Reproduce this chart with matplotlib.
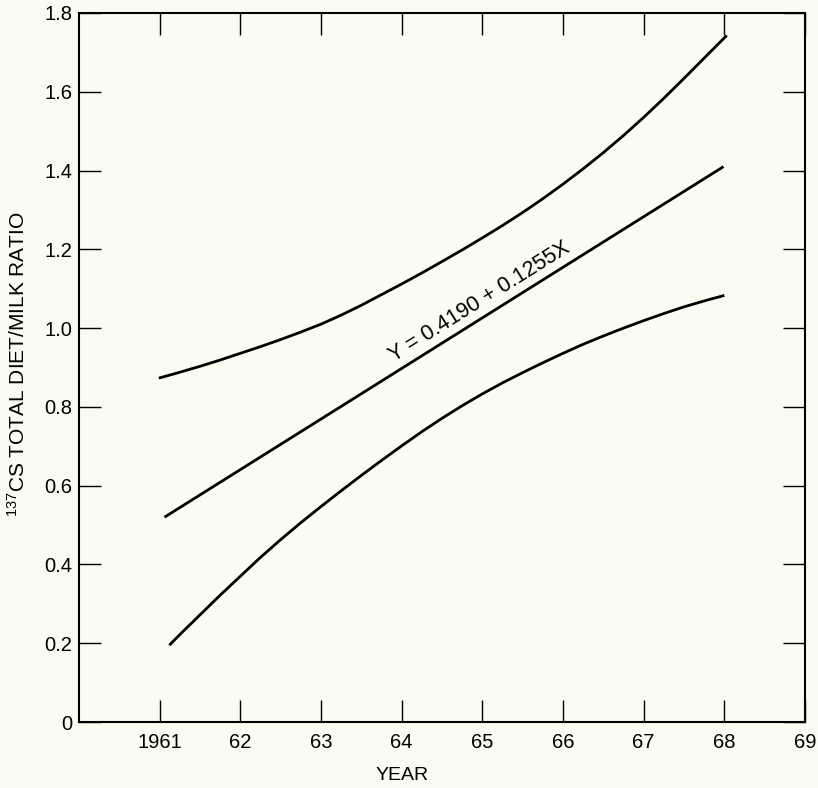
import matplotlib
matplotlib.use("Agg")
import matplotlib.pyplot as plt
import numpy as np

plt.rcParams['font.family'] = ['Liberation Sans', 'DejaVu Sans']
plt.rcParams['mathtext.default'] = 'regular'

# ---- data ----
upper_x = [1960.99, 1961.25, 1961.5, 1961.75, 1962.0, 1962.25, 1962.5, 1962.75,
           1963.0, 1963.25, 1963.5, 1963.75, 1964.0, 1964.25, 1964.5, 1964.75,
           1965.0, 1965.25, 1965.5, 1965.75, 1966.0, 1966.25, 1966.5, 1966.75,
           1967.0, 1967.25, 1967.5, 1967.75, 1968.03]
upper_y = [0.873, 0.888, 0.903, 0.919, 0.936, 0.953, 0.971, 0.990,
           1.010, 1.033, 1.058, 1.085, 1.112, 1.140, 1.169, 1.1985,
           1.229, 1.2605, 1.2935, 1.3285, 1.3655, 1.4045, 1.4455, 1.489,
           1.535, 1.5835, 1.634, 1.6855, 1.743]

mid_x = [1961.06, 1967.99]
mid_y = [0.520, 1.410]

lower_x = [1961.12, 1961.25, 1961.5, 1961.75, 1962.0, 1962.25, 1962.5, 1962.75,
           1963.0, 1963.25, 1963.5, 1963.75, 1964.0, 1964.25, 1964.5, 1964.75,
           1965.0, 1965.25, 1965.5, 1965.75, 1966.0, 1966.25, 1966.5, 1966.75,
           1967.0, 1967.25, 1967.5, 1967.75, 1968.0]
lower_y = [0.195, 0.222, 0.272, 0.322, 0.370, 0.418, 0.463, 0.506,
           0.547, 0.587, 0.626, 0.664, 0.701, 0.737, 0.771, 0.803,
           0.833, 0.861, 0.887, 0.912, 0.936, 0.959, 0.980, 1.000,
           1.019, 1.037, 1.054, 1.069, 1.083]

x_ticks = [1961, 1962, 1963, 1964, 1965, 1966, 1967, 1968, 1969]
x_ticklabels = ['1961', '62', '63', '64', '65', '66', '67', '68', '69']
y_ticks = [0, 0.2, 0.4, 0.6, 0.8, 1.0, 1.2, 1.4, 1.6, 1.8]
y_ticklabels = ['0', '0.2', '0.4', '0.6', '0.8', '1.0', '1.2', '1.4', '1.6', '1.8']

equation = 'Y = 0.4190 + 0.1255X'
x_label = 'YEAR'
y_label = r'$^{137}$CS TOTAL DIET/MILK RATIO'

bg = '#fcfbf1'

fig = plt.figure(figsize=(8.18, 7.88), dpi=100, facecolor=bg)
ax = fig.add_axes([79/818, 1-722/788, (805-79)/818, (722-13)/788])
ax.set_facecolor(bg)

lw = 2.0
ax.plot(upper_x, upper_y, color='black', lw=lw, solid_capstyle='butt', solid_joinstyle='round')
ax.plot(mid_x, mid_y, color='black', lw=lw, solid_capstyle='butt')
ax.plot(lower_x, lower_y, color='black', lw=lw, solid_capstyle='butt', solid_joinstyle='round')

ax.set_xlim(1960, 1969)
ax.set_ylim(0, 1.8)

ax.set_xticks(x_ticks)
ax.set_xticklabels(x_ticklabels)
ax.set_yticks(y_ticks)
ax.set_yticklabels(y_ticklabels)

for s in ax.spines.values():
    s.set_linewidth(1.5)
    s.set_color('black')

ax.tick_params(axis='both', which='major', direction='in', length=15.5, width=1.0,
               top=True, right=True, labelsize=14.5, colors='black')
ax.tick_params(axis='x', pad=8)
ax.tick_params(axis='y', pad=5)

# equation label along the middle line
fig.canvas.draw()
p0 = ax.transData.transform((mid_x[0], mid_y[0]))
p1 = ax.transData.transform((mid_x[-1], mid_y[-1]))
ang = np.degrees(np.arctan2(p1[1]-p0[1], p1[0]-p0[0]))
ax.text(1964.97, 1.066, equation, rotation=ang, rotation_mode='anchor',
        ha='center', va='center', fontsize=15.5, color='black')

ax.text((402-79)/726, -(776-722)/709, x_label, transform=ax.transAxes,
        ha='center', va='center', fontsize=14, color='black')
fig.text(17.5/818, 1-364/788, y_label, rotation=90, ha='center', va='center',
         fontsize=15, color='black')

fig.savefig('out.png', dpi=100, facecolor=bg)
